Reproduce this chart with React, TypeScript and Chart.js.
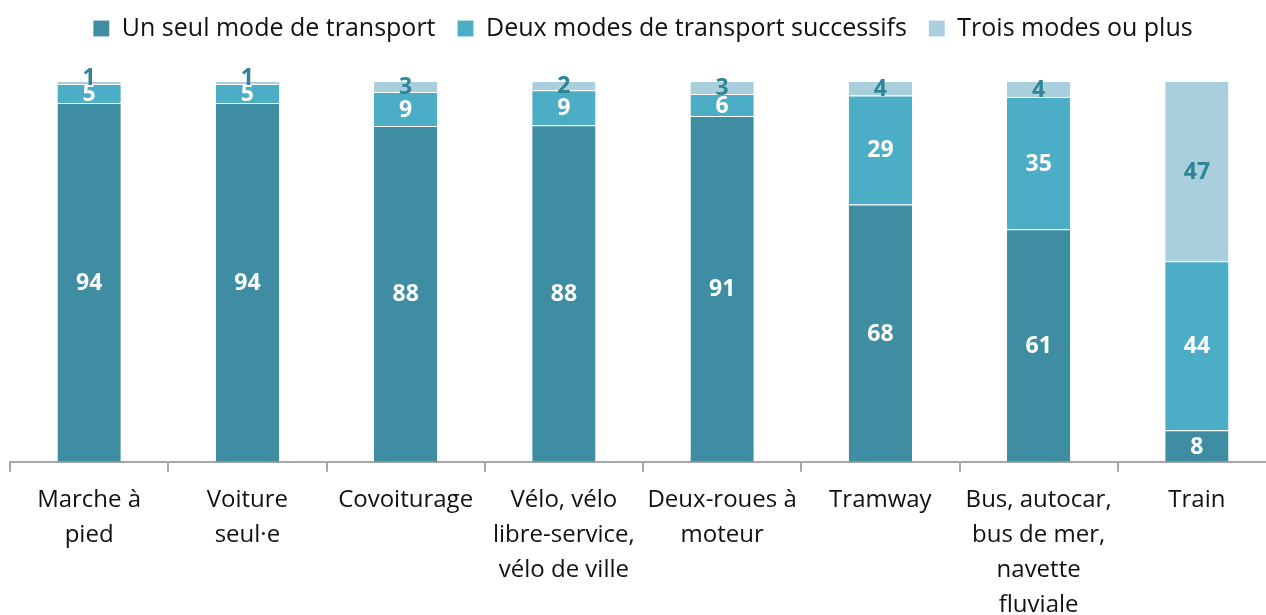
import React, { useEffect, useRef } from "react";
import { Chart, registerables } from "chart.js";

Chart.register(...registerables);

const categories: (string | string[])[] = [
  ["Marche à", "pied"],
  ["Voiture", "seul·e"],
  "Covoiturage",
  ["Vélo, vélo", "libre-service,", "vélo de ville"],
  ["Deux-roues à", "moteur"],
  "Tramway",
  ["Bus, autocar,", "bus de mer,", "navette", "fluviale"],
  "Train",
];

const seriesNames = [
  "Un seul mode de transport",
  "Deux modes de transport successifs",
  "Trois modes ou plus",
];

// shares in % (displayed rounded)
const unSeul = [94.2, 94.2, 88.2, 88.4, 90.8, 67.6, 61.1, 8.3];
const deuxModes = [5.0, 5.0, 8.9, 9.2, 5.8, 28.6, 34.7, 44.4];
const troisModes = [0.8, 0.8, 2.9, 2.4, 3.4, 3.8, 4.2, 47.3];

const colors = ["#3E8DA3", "#4BADC6", "#A9CFDD"];
const labelColors = ["#FFFFFF", "#FFFFFF", "#2E8499"];

const FONT = "'Open Sans'";

const labelPlugin = {
  id: "segLabels",
  afterDatasetsDraw(chart: any) {
    const ctx = chart.ctx;
    ctx.save();
    ctx.font = `bold 23px ${FONT}`;
    ctx.textAlign = "center";
    ctx.textBaseline = "middle";
    chart.data.datasets.forEach((ds: any, di: number) => {
      const meta = chart.getDatasetMeta(di);
      meta.data.forEach((bar: any, i: number) => {
        const v = ds.data[i];
        const h = Math.abs(bar.base - bar.y);
        let cy = (bar.y + bar.base) / 2;
        if (h < 8) cy = bar.base - 7;
        ctx.fillStyle = labelColors[di];
        ctx.fillText(String(Math.round(v)), bar.x, cy + 1);
      });
    });
    ctx.restore();
  },
};

const legendGap = {
  id: "legendGap",
  beforeInit(chart: any) {
    const orig = chart.legend.fit;
    chart.legend.fit = function () {
      orig.call(this);
      this.height += 30;
    };
  },
};

export default function App() {
  const ref = useRef<HTMLCanvasElement>(null);
  useEffect(() => {
    if (!ref.current) return;
    const chart = new Chart(ref.current, {
      type: "bar",
      data: {
        labels: categories,
        datasets: [unSeul, deuxModes, troisModes].map((d, i) => ({
          label: seriesNames[i],
          data: d,
          backgroundColor: colors[i],
          borderColor: "rgba(255,255,255,0.55)",
          borderWidth: { top: 1, bottom: 0, left: 0, right: 0 },
          borderSkipped: false,
          barPercentage: 0.4,
          categoryPercentage: 1,
        })),
      },
      options: {
        animation: false,
        responsive: false,
        maintainAspectRatio: false,
        layout: { padding: { left: 10, right: 0, top: -6, bottom: 0 } },
        plugins: {
          legend: {
            position: "top",
            labels: {
              boxWidth: 16,
              boxHeight: 16,
              padding: 22,
              color: "#111111",
              font: { family: FONT, size: 25 },
            },
          },
          tooltip: { enabled: false },
        },
        scales: {
          x: {
            stacked: true,
            grid: {
              display: true,
              drawOnChartArea: false,
              drawTicks: true,
              tickLength: 10,
              color: "#A6A6A6",
              lineWidth: 2,
              offset: true,
            },
            border: { display: true, color: "#A6A6A6", width: 2 },
            ticks: {
              color: "#111111",
              font: { family: FONT, size: 24, lineHeight: 1.46 },
              padding: 11,
              maxRotation: 0,
              autoSkip: false,
            },
          },
          y: {
            stacked: true,
            display: false,
            min: 0,
            max: 100,
          },
        },
      },
      plugins: [labelPlugin, legendGap],
    });
    return () => chart.destroy();
  }, []);
  return (
    <div
      style={{
        position: "fixed",
        left: 0,
        top: 0,
        width: 1266,
        height: 615,
        overflow: "hidden",
        background: "#fff",
      }}
    >
      <canvas ref={ref} width={1276} height={634} style={{ display: "block" }} />
    </div>
  );
}
